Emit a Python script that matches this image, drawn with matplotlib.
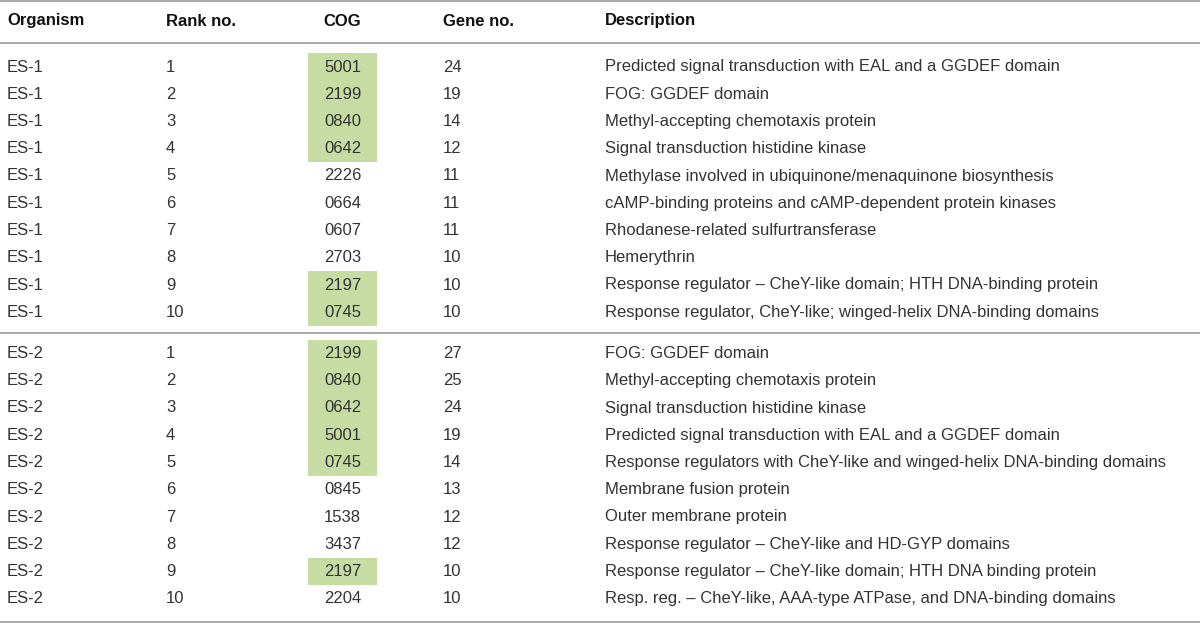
import matplotlib
matplotlib.use("Agg")
import matplotlib.pyplot as plt
from matplotlib.patches import Rectangle

headers = ["Organism", "Rank no.", "COG", "Gene no.", "Description"]
organism = ["ES-1"] * 10 + ["ES-2"] * 10
rank = [str(i) for i in range(1, 11)] * 2
cog = ["5001", "2199", "0840", "0642", "2226", "0664", "0607", "2703", "2197", "0745",
       "2199", "0840", "0642", "5001", "0745", "0845", "1538", "3437", "2197", "2204"]
gene_no = ["24", "19", "14", "12", "11", "11", "11", "10", "10", "10",
           "27", "25", "24", "19", "14", "13", "12", "12", "10", "10"]
description = [
    "Predicted signal transduction with EAL and a GGDEF domain",
    "FOG: GGDEF domain",
    "Methyl-accepting chemotaxis protein",
    "Signal transduction histidine kinase",
    "Methylase involved in ubiquinone/menaquinone biosynthesis",
    "cAMP-binding proteins and cAMP-dependent protein kinases",
    "Rhodanese-related sulfurtransferase",
    "Hemerythrin",
    "Response regulator \u2013 CheY-like domain; HTH DNA-binding protein",
    "Response regulator, CheY-like; winged-helix DNA-binding domains",
    "FOG: GGDEF domain",
    "Methyl-accepting chemotaxis protein",
    "Signal transduction histidine kinase",
    "Predicted signal transduction with EAL and a GGDEF domain",
    "Response regulators with CheY-like and winged-helix DNA-binding domains",
    "Membrane fusion protein",
    "Outer membrane protein",
    "Response regulator \u2013 CheY-like and HD-GYP domains",
    "Response regulator \u2013 CheY-like domain; HTH DNA binding protein",
    "Resp. reg. \u2013 CheY-like, AAA-type ATPase, and DNA-binding domains",
]
highlighted = [True, True, True, True, False, False, False, False, True, True,
               True, True, True, True, True, False, False, False, True, False]

W, H = 1200, 623
fig = plt.figure(figsize=(W / 100, H / 100), dpi=100)
ax = fig.add_axes([0, 0, 1, 1])
ax.set_xlim(0, W)
ax.set_ylim(H, 0)
ax.axis("off")

FONT = "Liberation Sans"
# size the body font so the first description spans ~453 px as in the reference
probe = ax.text(0, 0, description[0], fontsize=10, family=FONT)
renderer = fig.canvas.get_renderer()
wpx = probe.get_window_extent(renderer).width
probe.remove()
fs = 10 * 453.0 / wpx

col_x = [7, 166, None, 443, 605]
cog_center = 342.5
green = "#c6dca2"
line_col = "#a8a8a8"
txt_col = "#333333"

for y in [1.0, 43.0, 333.0, 621.5]:
    ax.plot([0, W], [y, y], color=line_col, lw=1.4, solid_capstyle="butt")

hy = 21
for i, h in enumerate(headers):
    if i == 2:
        ax.text(cog_center, hy, h, ha="center", va="center", fontsize=fs,
                fontweight="bold", family=FONT, color="#111111")
    else:
        ax.text(col_x[i], hy, h, ha="left", va="center", fontsize=fs,
                fontweight="bold", family=FONT, color="#111111")

row_h = 27.25
starts = [67.0, 353.5]
for k in range(20):
    g, r = divmod(k, 10)
    y = starts[g] + r * row_h
    if highlighted[k]:
        ax.add_patch(Rectangle((308, y - row_h / 2), 69, row_h,
                               facecolor=green, edgecolor="none"))
    kw = dict(va="center", fontsize=fs, family=FONT, color=txt_col, fontweight="normal")
    ax.text(col_x[0], y, organism[k], ha="left", **kw)
    ax.text(col_x[1], y, rank[k], ha="left", **kw)
    ax.text(cog_center, y, cog[k], ha="center", **kw)
    ax.text(col_x[3], y, gene_no[k], ha="left", **kw)
    ax.text(col_x[4], y, description[k], ha="left", **kw)

fig.savefig("out.png", dpi=100, facecolor="white")
